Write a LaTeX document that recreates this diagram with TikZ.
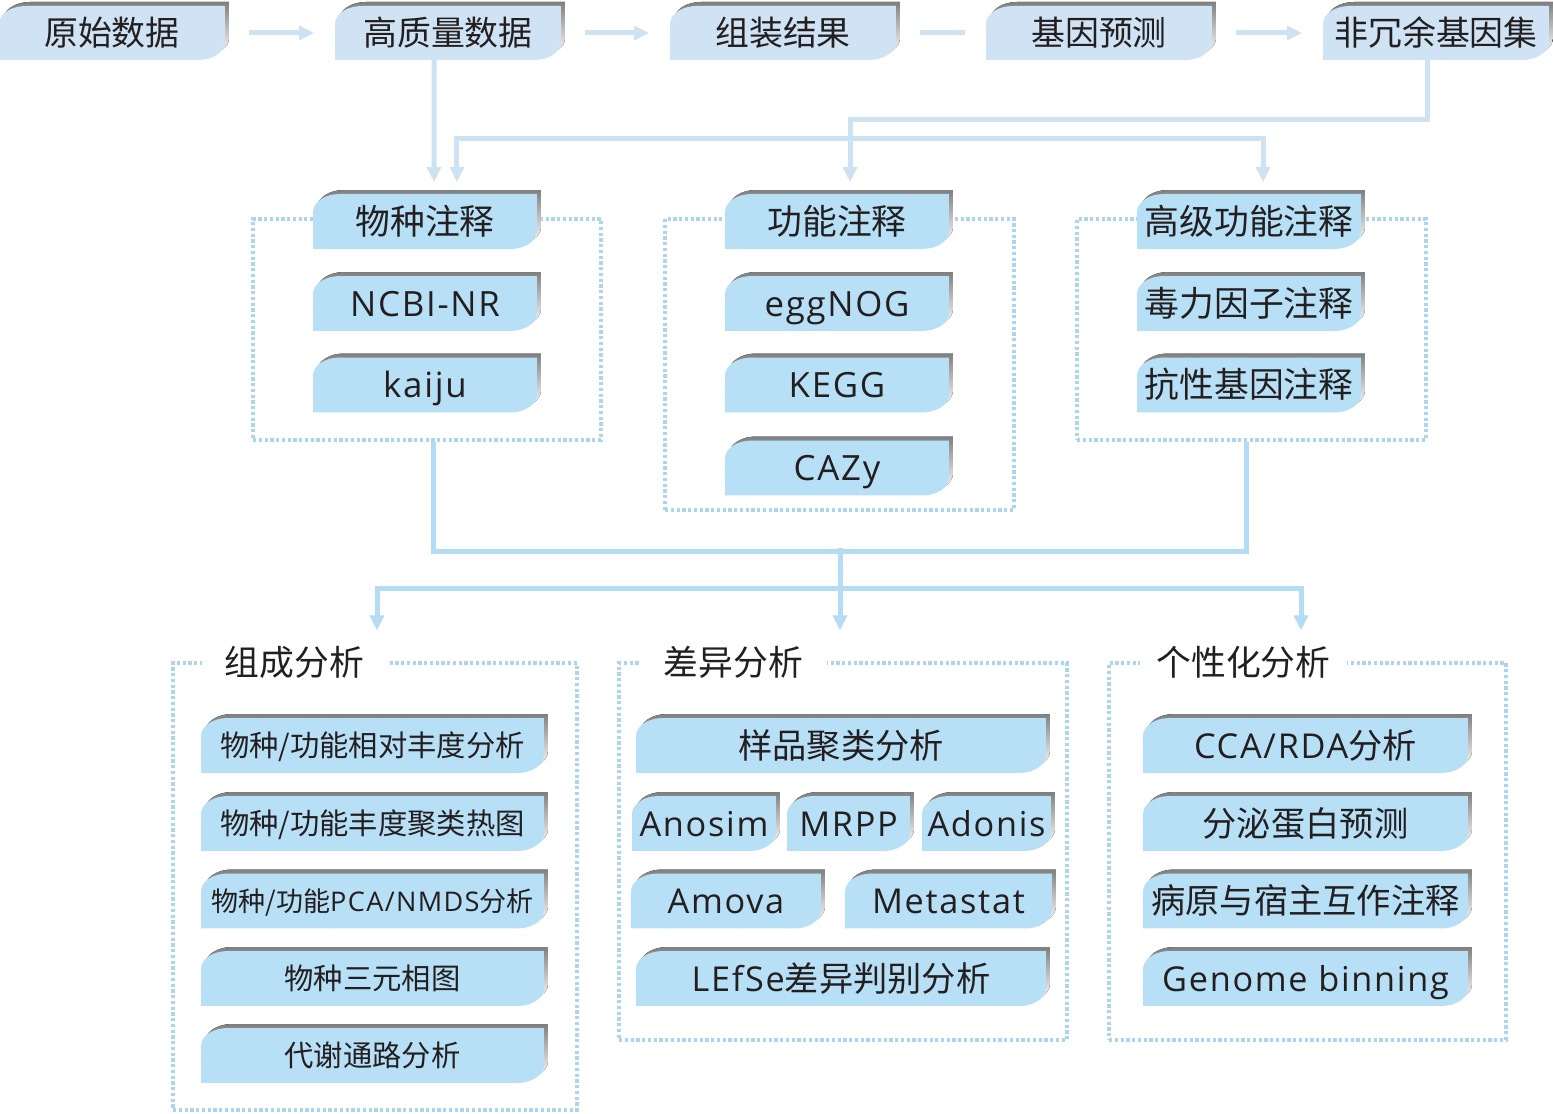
\documentclass[tikz,border=0pt]{standalone}
\usepackage{fontspec}
\setmainfont{Noto Sans CJK SC}
\newfontfamily\lat[LetterSpace=5]{Open Sans}
\usetikzlibrary{arrows.meta, backgrounds}
\definecolor{txt}{RGB}{35,31,32}
\definecolor{topfill}{RGB}{207,227,244}
\definecolor{tabfill}{RGB}{183,224,246}
\definecolor{shade}{RGB}{130,130,130}
\definecolor{topline}{RGB}{205,227,244}
\definecolor{lowline}{RGB}{180,221,245}
\definecolor{dots}{RGB}{172,214,240}
\newcommand\fsz[1]{\fontsize{#1pt}{#1pt}\selectfont}
% tab shape: grey lip on top and right, round top-left and bottom-right corners
\newcommand\tabshape[2]{%
  \fill[shade] ([xshift=0.08cm,yshift=0.08cm]#1.south west)
    -- ([xshift=0.08cm,yshift=-0.28cm]#1.north west)
    .. controls ([xshift=0.08cm,yshift=-0.08cm]#1.north west) and ([xshift=0.32cm,yshift=0.08cm]#1.north west)
    .. ([xshift=0.62cm,yshift=0.08cm]#1.north west)
    -- ([xshift=0.08cm,yshift=0.08cm]#1.north east)
    -- ([xshift=0.08cm,yshift=0.44cm]#1.south east)
    .. controls ([xshift=0.08cm,yshift=0.24cm]#1.south east) and ([xshift=-0.16cm,yshift=0.08cm]#1.south east)
    .. ([xshift=-0.46cm,yshift=0.08cm]#1.south east) -- cycle;
  \fill[#2] (#1.south west) -- ([yshift=-0.36cm]#1.north west)
    .. controls ([yshift=-0.16cm]#1.north west) and ([xshift=0.24cm]#1.north west)
    .. ([xshift=0.54cm]#1.north west) -- (#1.north east) -- ([yshift=0.36cm]#1.south east)
    .. controls ([yshift=0.16cm]#1.south east) and ([xshift=-0.24cm]#1.south east)
    .. ([xshift=-0.54cm]#1.south east) -- cycle;
}
\tikzset{
    tab/.style={inner sep=0pt, outer sep=0pt, minimum height=1.1cm, text=txt, text depth=0pt}, % every label box
    toptab/.style={tab, minimum width=4.52cm, minimum height=1.08cm, font=\fsz{19.3}, text height=14.3pt}, % pipeline row
    midtab/.style={tab, minimum width=4.48cm, font=\fsz{19.8}, text height=14.7pt}, % annotation boxes
    lowtab/.style={tab, font=\fsz{19.5}, text height=14.4pt}, % analysis boxes
    comptab/.style={tab, minimum width=6.86cm, font=\fsz{16.7}, text height=12.4pt},
    grp/.style={draw=dots, line width=0.07cm, dash pattern=on 0.065cm off 0.05cm, inner sep=0pt}, % dotted frames
    gtitle/.style={fill=white, inner sep=0pt, minimum height=0.8cm, text=txt, font=\fsz{19.8}, text height=14.7pt, text depth=0pt},
    tline/.style={draw=topline, line width=0.1cm},
    lline/.style={draw=lowline, line width=0.1cm},
    >={Triangle[width=0.28cm, length=0.3cm]}
}
\begin{document}
\begin{tikzpicture}[x=0.02cm, y=-0.02cm]
    \useasboundingbox (0,0) rectangle (1553,1114);

    % Pipeline
    \node[toptab] (raw) at (112,33) {原始数据};
    \node[toptab] (hq) at (448,33) {高质量数据};
    \node[toptab] (asm) at (783,33) {组装结果};
    \node[toptab] (gene) at (1099,33) {基因预测};
    \node[toptab] (nr) at (1436,33) {非冗余基因集};

    % Annotation
    \node[midtab] (spec) at (425,221.5) {物种注释};
    \node[midtab] (ncbi) at (425,303.5) {\lat NCBI-NR};
    \node[midtab] (kaiju) at (425,385) {\lat kaiju};
    \node[midtab] (func) at (837,221.5) {功能注释};
    \node[midtab] (egg) at (837,303.5) {\lat eggNOG};
    \node[midtab] (kegg) at (837,385) {\lat KEGG};
    \node[midtab] (cazy) at (837,468) {\lat CAZy};
    \node[midtab] (adv) at (1249,221.5) {高级功能注释};
    \node[midtab] (vf) at (1249,303.5) {毒力因子注释};
    \node[midtab] (arg) at (1249,385) {抗性基因注释};

    % Analysis
    \node[comptab] (a1) at (372.5,745.5) {物种/功能相对丰度分析};
    \node[comptab] (a2) at (372.5,823.5) {物种/功能丰度聚类热图};
    \node[comptab, font=\fsz{15.4}, text height=11.4pt] (a3) at (372.5,901) {物种/功能{\lat PCA/NMDS}分析};
    \node[comptab] (a4) at (372.5,978.5) {物种三元相图};
    \node[comptab] (a5) at (372.5,1055.5) {代谢通路分析};

    \node[lowtab, minimum width=8.2cm] (clus) at (841,745.5) {样品聚类分析};
    \node[lowtab, minimum width=2.88cm] (anosim) at (704,823.5) {\lat Anosim};
    \node[lowtab, minimum width=2.46cm] (mrpp) at (848.5,823.5) {\lat MRPP};
    \node[lowtab, minimum width=2.58cm] (adonis) at (986.5,823.5) {\lat Adonis};
    \node[lowtab, minimum width=3.8cm] (amova) at (726,901) {\lat Amova};
    \node[lowtab, minimum width=4.14cm] (metastat) at (948.5,901) {\lat Metastat};
    \node[lowtab, minimum width=8.2cm] (lefse) at (841,978.5) {{\lat LEfSe}差异判别分析};

    \node[lowtab, minimum width=6.5cm] (c1) at (1305.5,745.5) {{\lat CCA/RDA}分析};
    \node[lowtab, minimum width=6.5cm] (c2) at (1305.5,823.5) {分泌蛋白预测};
    \node[lowtab, minimum width=6.5cm] (c3) at (1305.5,901) {病原与宿主互作注释};
    \node[lowtab, minimum width=6.5cm] (c4) at (1305.5,978.5) {\lat Genome binning};

    % Frames and boxes
    \begin{scope}[on background layer]
        \fill[white] (0,0) rectangle (1553,1114);
        \node[grp, minimum width=6.96cm, minimum height=4.42cm] (g1) at (427,329.5) {};
        \node[grp, minimum width=6.98cm, minimum height=5.82cm] (g2) at (839.5,364.5) {};
        \node[grp, minimum width=6.98cm, minimum height=4.42cm] (g3) at (1251.5,329.5) {};
        \node[grp, minimum width=8.08cm, minimum height=8.94cm] (gA) at (375,886.5) {};
        \node[grp, minimum width=8.96cm, minimum height=7.54cm] (gB) at (843,851.5) {};
        \node[grp, minimum width=7.94cm, minimum height=7.54cm] (gC) at (1307.5,851.5) {};
        \foreach \n in {raw,hq,asm,gene,nr}
            \tabshape{\n}{topfill};
        \foreach \n in {spec,ncbi,kaiju,func,egg,kegg,cazy,adv,vf,arg,a1,a2,a3,a4,a5,clus,anosim,mrpp,adonis,amova,metastat,lefse,c1,c2,c3,c4}
            \tabshape{\n}{tabfill};
    \end{scope}

    % Frame titles
    \node[gtitle, minimum width=3.7cm] (tA) at (294.5,663) {组成分析};
    \node[gtitle, minimum width=3.74cm] (tB) at (733.5,663) {差异分析};
    \node[gtitle, minimum width=4.14cm] (tC) at (1243.5,663) {个性化分析};

    % Connectors
    \draw[tline, ->, shorten <=0.48cm, shorten >=0.42cm] (raw) -- (hq);
    \draw[tline, ->, shorten <=0.48cm, shorten >=0.42cm] (hq) -- (asm);
    \draw[tline, shorten <=0.48cm, shorten >=0.42cm] (asm) -- (gene);
    \draw[tline, ->, shorten <=0.48cm, shorten >=0.42cm] (gene) -- (nr);
    \draw[tline, ->] ([xshift=-0.28cm]hq.south) -- ([xshift=0.18cm,yshift=0.24cm]spec.north);
    \draw[tline, ->] ([xshift=-0.18cm]nr.south) -- ++(0cm,-1.2cm) -| ([xshift=0.26cm,yshift=0.24cm]func.north);
    \draw[tline, ->] ([xshift=0.26cm,yshift=1.12cm]func.north) -| ([xshift=0.64cm,yshift=0.24cm]spec.north);
    \draw[tline, ->] ([xshift=0.26cm,yshift=1.12cm]func.north) -| ([xshift=0.28cm,yshift=0.24cm]adv.north);

    \draw[lline] ([xshift=0.12cm]g1.south) -- ++(0cm,-2.2cm) -| ([xshift=-0.11cm]g3.south);
    \draw[lline, ->] ([xshift=-0.06cm,yshift=2.26cm]gB.north) -- ([xshift=-0.06cm,yshift=0.62cm]gB.north);
    \draw[lline, ->] ([xshift=-0.06cm,yshift=1.46cm]gB.north) -| ([xshift=0.04cm,yshift=0.62cm]gA.north);
    \draw[lline, ->] ([xshift=-0.06cm,yshift=1.46cm]gB.north) -| ([xshift=-0.13cm,yshift=0.62cm]gC.north);
\end{tikzpicture}
\end{document}
